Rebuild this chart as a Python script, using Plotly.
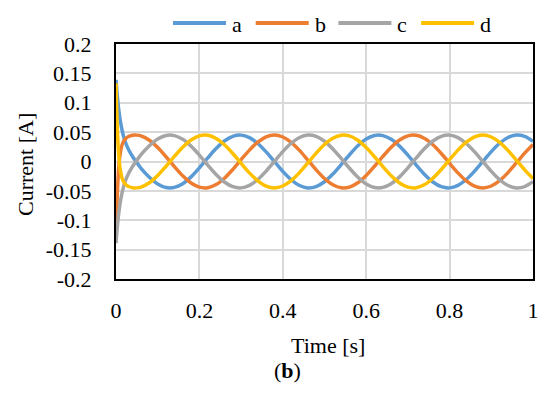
import plotly.graph_objects as go

# ---- data ----
time_s = [0, 0.0025, 0.005, 0.0075, 0.01, 0.015, 0.02, 0.025, 0.03, 0.04, 0.05,
          0.06, 0.08, 0.10, 0.12, 0.14, 0.16, 0.18, 0.20, 0.22, 0.24, 0.26, 0.28,
          0.30, 0.32, 0.34, 0.36, 0.38, 0.40, 0.42, 0.44, 0.46, 0.48, 0.50, 0.52,
          0.54, 0.56, 0.58, 0.60, 0.62, 0.64, 0.66, 0.68, 0.70, 0.72, 0.74, 0.76,
          0.78, 0.80, 0.82, 0.84, 0.86, 0.88, 0.90, 0.92, 0.94, 0.96, 0.98, 1.00]

current_a = [0.139, 0.1164, 0.0980, 0.0830, 0.0705, 0.0518, 0.0383, 0.0284, 0.0204, 0.0081, -0.0020,
             -0.0115, -0.0267, -0.0382, -0.0443, -0.0441, -0.0378, -0.0262, -0.0109, 0.0060, 0.0220, 0.0349, 0.0429,
             0.0449, 0.0406, 0.0306, 0.0163, -0.0003, -0.0169, -0.0311, -0.0409, -0.0449, -0.0427, -0.0345, -0.0214,
             -0.0053, 0.0115, 0.0267, 0.0382, 0.0443, 0.0441, 0.0378, 0.0262, 0.0109, -0.0060, -0.0220, -0.0349,
             -0.0429, -0.0449, -0.0406, -0.0306, -0.0163, 0.0003, 0.0169, 0.0311, 0.0409, 0.0449, 0.0427, 0.0345]

current_b = [-0.133, -0.0677, -0.0276, -0.0026, 0.0130, 0.0293, 0.0366, 0.0403, 0.0425, 0.0447, 0.0449,
             0.0435, 0.0362, 0.0238, 0.0081, -0.0087, -0.0244, -0.0366, -0.0437, -0.0446, -0.0393, -0.0284, -0.0136,
             0.0031, 0.0194, 0.0330, 0.0420, 0.0450, 0.0417, 0.0326, 0.0189, 0.0025, -0.0142, -0.0289, -0.0396,
             -0.0447, -0.0435, -0.0362, -0.0238, -0.0081, 0.0087, 0.0244, 0.0366, 0.0437, 0.0446, 0.0393, 0.0284,
             0.0136, -0.0031, -0.0194, -0.0330, -0.0420, -0.0450, -0.0417, -0.0326, -0.0189, -0.0025, 0.0142, 0.0289]

current_c = [-0.139, -0.1164, -0.0980, -0.0830, -0.0705, -0.0518, -0.0383, -0.0284, -0.0204, -0.0081, 0.0020,
             0.0115, 0.0267, 0.0382, 0.0443, 0.0441, 0.0378, 0.0262, 0.0109, -0.0060, -0.0220, -0.0349, -0.0429,
             -0.0449, -0.0406, -0.0306, -0.0163, 0.0003, 0.0169, 0.0311, 0.0409, 0.0449, 0.0427, 0.0345, 0.0214,
             0.0053, -0.0115, -0.0267, -0.0382, -0.0443, -0.0441, -0.0378, -0.0262, -0.0109, 0.0060, 0.0220, 0.0349,
             0.0429, 0.0449, 0.0406, 0.0306, 0.0163, -0.0003, -0.0169, -0.0311, -0.0409, -0.0449, -0.0427, -0.0345]

current_d = [0.133, 0.0677, 0.0276, 0.0026, -0.0130, -0.0293, -0.0366, -0.0403, -0.0425, -0.0447, -0.0449,
             -0.0435, -0.0362, -0.0238, -0.0081, 0.0087, 0.0244, 0.0366, 0.0437, 0.0446, 0.0393, 0.0284, 0.0136,
             -0.0031, -0.0194, -0.0330, -0.0420, -0.0450, -0.0417, -0.0326, -0.0189, -0.0025, 0.0142, 0.0289, 0.0396,
             0.0447, 0.0435, 0.0362, 0.0238, 0.0081, -0.0087, -0.0244, -0.0366, -0.0437, -0.0446, -0.0393, -0.0284,
             -0.0136, 0.0031, 0.0194, 0.0330, 0.0420, 0.0450, 0.0417, 0.0326, 0.0189, 0.0025, -0.0142, -0.0289]

series_names = ["a", "b", "c", "d"]
series_values = [current_a, current_b, current_c, current_d]

x_tick_vals = [0, 0.2, 0.4, 0.6, 0.8, 1.0]
x_tick_text = ["0", "0.2", "0.4", "0.6", "0.8", "1"]
y_tick_vals = [-0.2, -0.15, -0.1, -0.05, 0, 0.05, 0.1, 0.15, 0.2]
y_tick_text = ["-0.2", "-0.15", "-0.1", "-0.05", "0", "0.05", "0.1", "0.15", "0.2"]

# ---- style ----
colors = ["#5B9BD5", "#ED7D31", "#A5A5A5", "#FFC000"]
FONT = "Liberation Serif, Times New Roman, serif"
FS = 22
OFF = 8                      # browser body margin
PAGE_W, PAGE_H = 550, 395
W, H = PAGE_W - OFF, PAGE_H - OFF
# target plot box in page pixels
PX0, PX1, PY0, PY1 = 116, 533, 44, 279
L, T = PX0 - OFF, PY0 - OFF
R = W - (PX1 - OFF)
B = H - (PY1 - OFF)
PW = PX1 - PX0
PH = PY1 - PY0


def px_to_paper_x(px):
    return (px - PX0) / PW


def px_to_paper_y(py):
    return (PY1 - py) / PH


fig = go.Figure()
for name, vals, col in zip(series_names, series_values, colors):
    fig.add_trace(go.Scatter(
        x=time_s, y=vals, name=name, mode="lines",
        line=dict(color=col, width=3.5, shape="spline", smoothing=0.8),
        showlegend=False,
    ))

# custom legend (long line samples like the reference)
shapes = []
annotations = []
leg_y_px = 23
leg_x0_px = 173
leg_pitch = 82.7
leg_len = 53
for i, (name, col) in enumerate(zip(series_names, colors)):
    x0 = leg_x0_px + i * leg_pitch
    shapes.append(dict(
        type="line", xref="paper", yref="paper",
        x0=px_to_paper_x(x0), x1=px_to_paper_x(x0 + leg_len),
        y0=px_to_paper_y(leg_y_px), y1=px_to_paper_y(leg_y_px),
        line=dict(color=col, width=4),
    ))
    annotations.append(dict(
        text=name, xref="paper", yref="paper",
        x=px_to_paper_x(x0 + leg_len + 4), y=px_to_paper_y(leg_y_px + 1),
        xanchor="left", yanchor="middle", showarrow=False,
        font=dict(family=FONT, size=FS, color="black"),
    ))

annotations.append(dict(
    text="Current [A]", xref="paper", yref="paper",
    x=px_to_paper_x(25), y=px_to_paper_y(165), textangle=-90,
    xanchor="center", yanchor="middle", showarrow=False,
    font=dict(family=FONT, size=FS, color="black"),
))
annotations.append(dict(
    text="Time [s]", xref="paper", yref="paper",
    x=px_to_paper_x(328), y=px_to_paper_y(345),
    xanchor="center", yanchor="middle", showarrow=False,
    font=dict(family=FONT, size=FS, color="black"),
))
annotations.append(dict(
    text="(<b>b</b>)", xref="paper", yref="paper",
    x=px_to_paper_x(287), y=px_to_paper_y(370),
    xanchor="center", yanchor="middle", showarrow=False,
    font=dict(family=FONT, size=FS, color="black"),
))

fig.update_layout(
    width=W, height=H,
    margin=dict(l=L, r=R, t=T, b=B, pad=0, autoexpand=False),
    paper_bgcolor="white", plot_bgcolor="white",
    font=dict(family=FONT, size=FS, color="black"),
    shapes=shapes, annotations=annotations,
    showlegend=False,
)
fig.update_xaxes(
    range=[0, 1], tickvals=x_tick_vals, ticktext=x_tick_text,
    showgrid=True, gridcolor="#D9D9D9", gridwidth=1.8, zeroline=False,
    showline=True, linecolor="black", linewidth=2, mirror=True,
    ticks="", ticklabelstandoff=11,
    tickfont=dict(family=FONT, size=FS, color="black"),
)
fig.update_yaxes(
    range=[-0.2, 0.2], tickvals=y_tick_vals, ticktext=y_tick_text,
    showgrid=True, gridcolor="#D9D9D9", gridwidth=1.8, zeroline=False,
    showline=True, linecolor="black", linewidth=2, mirror=True,
    ticks="", ticklabelstandoff=18,
    tickfont=dict(family=FONT, size=FS, color="black"),
)

fig.write_html("out.html")
